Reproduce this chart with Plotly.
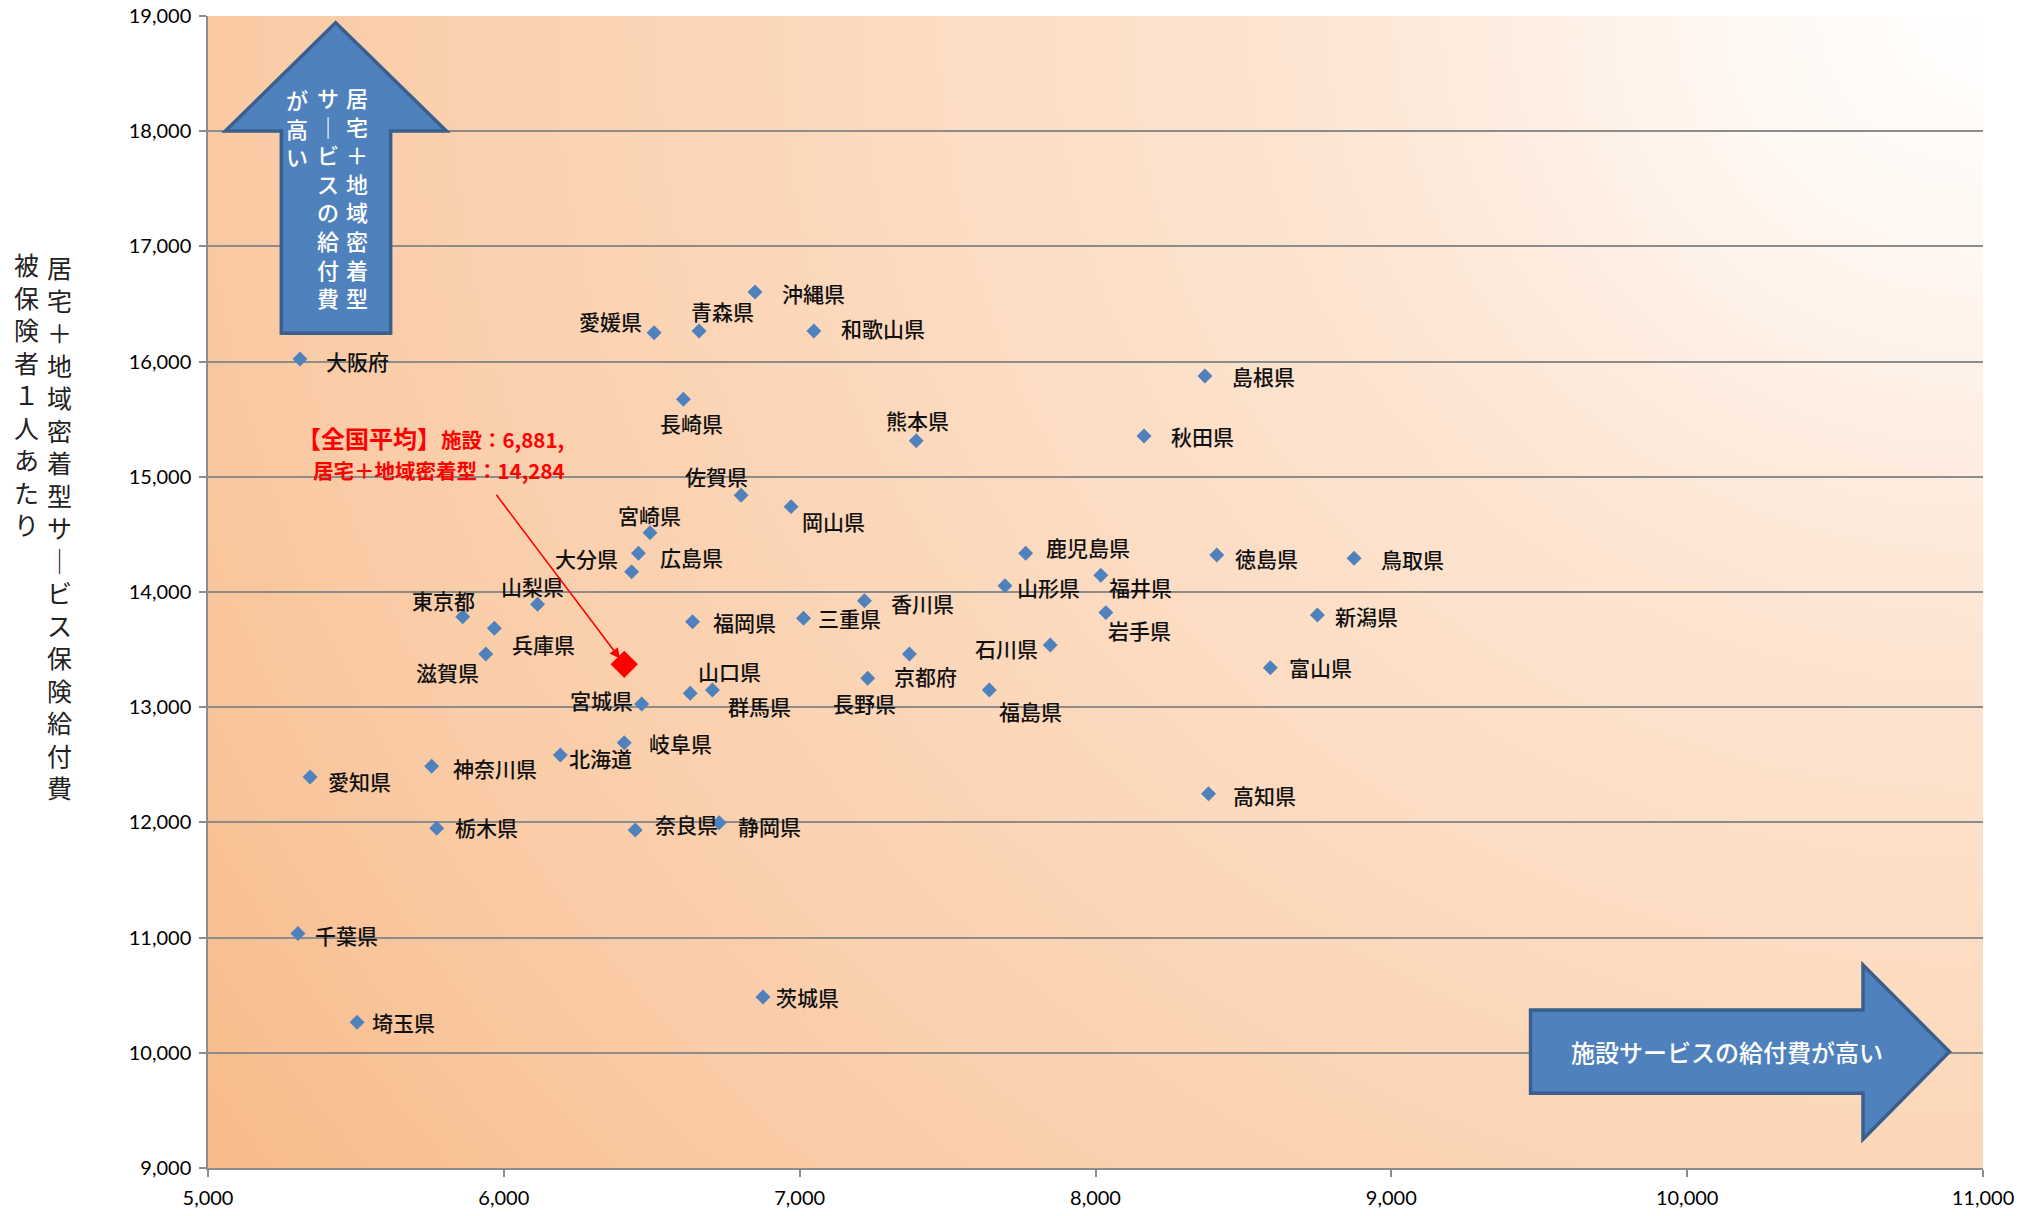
import base64
import plotly.graph_objects as go

# ---------------- data ----------------
prefectures = ["北海道", "青森県", "岩手県", "宮城県", "秋田県", "山形県", "福島県", "茨城県",
               "栃木県", "群馬県", "埼玉県", "千葉県", "東京都", "神奈川県", "新潟県", "富山県",
               "石川県", "福井県", "山梨県", "長野県", "岐阜県", "静岡県", "愛知県", "三重県",
               "滋賀県", "京都府", "大阪府", "兵庫県", "奈良県", "和歌山県", "鳥取県", "島根県",
               "岡山県", "広島県", "山口県", "徳島県", "香川県", "愛媛県", "高知県", "福岡県",
               "佐賀県", "長崎県", "熊本県", "大分県", "宮崎県", "鹿児島県", "沖縄県"]

# 施設サービス給付費 (x)
facility = [6191, 6660, 8035, 6466, 8164, 7694, 7641, 6876,
            5773, 6705, 5504, 5304, 5861, 5756, 8750, 8591,
            7847, 8018, 6114, 7230, 6407, 6728, 5345, 7013,
            5939, 7371, 5311, 5968, 6444, 7048, 8874, 8370,
            6971, 6455, 6630, 8410, 7219, 6508, 8382, 6638,
            6802, 6607, 7394, 6432, 6494, 7764, 6849]

# 居宅＋地域密着型サービス給付費 (y)
home = [12585, 16266, 13821, 13028, 15354, 14055, 13149, 10484,
        11949, 13149, 10265, 11035, 13786, 12488, 13800, 13343,
        13540, 14145, 13893, 13251, 12692, 11997, 12394, 13772,
        13462, 13462, 16023, 13685, 11934, 16266, 14293, 15875,
        14741, 14336, 13121, 14321, 13924, 16251, 12248, 13742,
        14840, 15673, 15313, 14176, 14515, 14336, 16604]

avg_marker_x = [6407]
avg_marker_y = [13372]
avg_facility_label = "6,881"
avg_home_label = "14,284"

x_ticks = [5000, 6000, 7000, 8000, 9000, 10000, 11000]
y_ticks = [9000, 10000, 11000, 12000, 13000, 14000, 15000, 16000, 17000, 18000, 19000]

# ---------------- label placement (pixel offsets, style only) ----------------
label_dx = [40, 23, 34, -40, 58, 44, 41, 45,
            50, 47, 46, 49, -19, 63, 49, 50,
            -44, 40, -5, -3, 56, 50, 49, 46,
            -38, 16, 57, 49, 51, 69, 58, 59,
            42, 53, 39, 50, 58, -44, 56, 52,
            -25, 8, 1, -45, 0, 62, 58]
label_dy = [3, -20, 17, -4, 0, 1, 21, 0,
            -1, 16, 0, 1, -17, 2, 1, -1,
            3, 12, -18, 25, 0, 3, 4, 0,
            18, 22, 2, 16, -6, -3, 1, 0,
            14, 4, -22, 3, 2, -12, 1, 0,
            -19, 24, -21, -14, -18, -6, 1]

JP = "Noto Sans CJK JP"
NUM = "Lato"
GRID = "#8C8C8C"
BLUE = "#4F81BD"
BLUE_EDGE = "#3A5F8D"

# ---------------- background gradient ----------------
svg = """<svg xmlns="http://www.w3.org/2000/svg" width="1000" height="1000" viewBox="0 0 1000 1000" preserveAspectRatio="none">
<defs><radialGradient id="g" gradientUnits="userSpaceOnUse" cx="1000" cy="0" r="1230"
 gradientTransform="translate(1000 0) scale(1 1.4) translate(-1000 0)">
<stop offset="0" stop-color="#FFFFFF"/>
<stop offset="0.12" stop-color="#FFF7F1"/>
<stop offset="0.3" stop-color="#FDE6D4"/>
<stop offset="0.55" stop-color="#FCD8BB"/>
<stop offset="0.78" stop-color="#FACCA7"/>
<stop offset="1" stop-color="#F7BB8A"/>
</radialGradient></defs>
<rect width="1000" height="1000" fill="url(#g)"/></svg>"""
bg_src = "data:image/svg+xml;base64," + base64.b64encode(svg.encode("utf-8")).decode("ascii")

fig = go.Figure()

fig.add_trace(go.Scatter(
    x=facility, y=home, mode="markers", text=prefectures,
    marker=dict(symbol="diamond", size=11.5, color=BLUE, line=dict(width=0)),
    hovertemplate="%{text}<br>%{x:,}, %{y:,}<extra></extra>", showlegend=False))

fig.add_trace(go.Scatter(
    x=avg_marker_x, y=avg_marker_y, mode="markers",
    marker=dict(symbol="diamond", size=21, color="#FF0000", line=dict(width=0)),
    hoverinfo="skip", showlegend=False))

annotations = []
for name, xv, yv, dx, dy in zip(prefectures, facility, home, label_dx, label_dy):
    annotations.append(dict(
        x=xv, y=yv, xref="x", yref="y", text=name, showarrow=False,
        xshift=dx, yshift=-dy, xanchor="center", yanchor="middle",
        font=dict(family=JP, size=21, color="#111111", weight=500)))

# red arrow to the national-average marker
annotations.append(dict(
    x=avg_marker_x[0], y=avg_marker_y[0], xref="x", yref="y", text="",
    showarrow=True, ax=-129, ay=-171, axref="pixel", ayref="pixel",
    arrowhead=2, arrowsize=1.3, arrowwidth=1.6, arrowcolor="#FF0000", standoff=7))

# red note
annotations.append(dict(
    x=0.2017, y=0.6345, xref="paper", yref="paper", xanchor="right", yanchor="middle",
    showarrow=False,
    text="<b><span style='font-size:24px'>【全国平均】</span>施設：" + avg_facility_label + ",</b>",
    font=dict(family=JP, size=20.5, color="#FF0000")))
annotations.append(dict(
    x=0.2023, y=0.6059, xref="paper", yref="paper", xanchor="right", yanchor="middle",
    showarrow=False,
    text="<b>居宅＋地域密着型：" + avg_home_label + "</b>",
    font=dict(family=JP, size=20.5, color="#FF0000")))


def vertical(s):
    return "<br>".join(list(s))


# y-axis title (vertical writing, right column first)
annotations.append(dict(
    x=-0.0839, y=0.5564, xref="paper", yref="paper", xanchor="center", yanchor="middle",
    showarrow=False, text=vertical("居宅＋地域密着型サ｜ビス保険給付費"),
    font=dict(family=JP, size=25, color="#222222")))
annotations.append(dict(
    x=-0.1025, y=0.6723, xref="paper", yref="paper", xanchor="center", yanchor="middle",
    showarrow=False, text=vertical("被保険者１人あたり"),
    font=dict(family=JP, size=25, color="#222222")))

# text in the up arrow
for xp, yp, s in [(0.0839, 0.8432, "居宅＋地域密着型"),
                  (0.0676, 0.8432, "サ｜ビスの給付費"),
                  (0.0501, 0.9031, "が高い")]:
    annotations.append(dict(
        x=xp, y=yp, xref="paper", yref="paper", xanchor="center", yanchor="middle",
        showarrow=False, text=vertical(s),
        font=dict(family=JP, size=22, color="#FFFFFF", weight=500)))

# text in the right arrow
annotations.append(dict(
    x=0.8558, y=0.1010, xref="paper", yref="paper", xanchor="center", yanchor="middle",
    showarrow=False, text="施設サービスの給付費が高い",
    font=dict(family=JP, size=24, color="#FFFFFF", weight=500)))

shapes = [
    dict(type="path", xref="paper", yref="paper",
         path="M 0.0413 0.7246 L 0.0413 0.9002 L 0.0098 0.9002 L 0.0719 0.9942 "
              "L 0.1343 0.9002 L 0.1029 0.9002 L 0.1029 0.7246 Z",
         fillcolor=BLUE, line=dict(color=BLUE_EDGE, width=3.5), layer="above"),
    dict(type="path", xref="paper", yref="paper",
         path="M 0.7451 0.0648 L 0.7451 0.1372 L 0.9324 0.1372 L 0.9324 0.1762 "
              "L 0.9811 0.1010 L 0.9324 0.0249 L 0.9324 0.0648 Z",
         fillcolor=BLUE, line=dict(color=BLUE_EDGE, width=3.5), layer="above"),
]

fig.update_layout(
    width=2044, height=1216,
    margin=dict(l=208, r=61, t=16, b=48, autoexpand=False),
    paper_bgcolor="#FFFFFF", plot_bgcolor="rgba(0,0,0,0)",
    images=[dict(source=bg_src, xref="paper", yref="paper", x=0, y=1, sizex=1, sizey=1,
                 xanchor="left", yanchor="top", sizing="stretch", layer="below")],
    annotations=annotations, shapes=shapes,
    xaxis=dict(range=[5000, 11000], tickvals=x_ticks, tickformat=",", automargin=False,
               showgrid=False, zeroline=False, showline=True, linecolor=GRID, linewidth=1.5,
               ticks="outside", ticklen=7, tickwidth=1.5, tickcolor=GRID, ticklabelstandoff=4,
               tickfont=dict(family=NUM, size=20, color="#000000")),
    yaxis=dict(range=[9000, 19000], tickvals=y_ticks, tickformat=",", automargin=False,
               showgrid=True, gridcolor=GRID, gridwidth=1.5, zeroline=False,
               showline=True, linecolor=GRID, linewidth=1.5,
               ticks="outside", ticklen=7, tickwidth=1.5, tickcolor=GRID, ticklabelstandoff=4,
               tickfont=dict(family=NUM, size=20, color="#000000")),
)

fig.write_html("out.html", config={"displayModeBar": False},
               post_script="document.body.style.margin='0';")
